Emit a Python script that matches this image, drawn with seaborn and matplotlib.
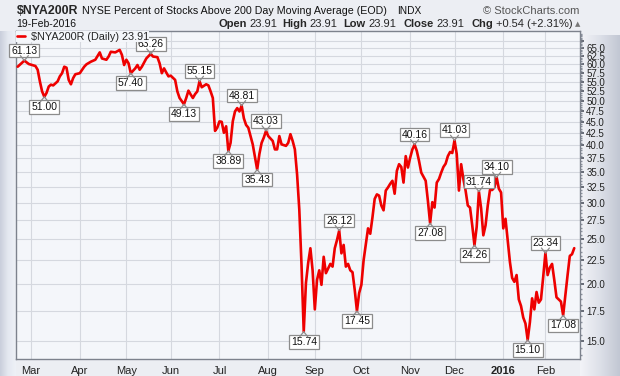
import numpy as np
import pandas as pd
import matplotlib
matplotlib.use("Agg")
import matplotlib.pyplot as plt
import seaborn as sns
from matplotlib import font_manager as fm
from matplotlib.ticker import FixedLocator, FuncFormatter, NullFormatter

# ---------------- data ----------------
start_date = "2015-02-20"
end_date = "2016-02-19"
nyse_holidays = ["2015-04-03", "2015-05-25", "2015-07-03", "2015-09-07",
                 "2015-11-26", "2015-12-25", "2016-01-01", "2016-01-18", "2016-02-15"]

# trading-session number (0 = 20-Feb-2015) and % of NYSE stocks above 200-day MA
session = [0, 3, 5, 8, 9, 10, 11, 12, 13, 14, 15, 16, 18, 19, 20, 21, 22, 23, 24, 25,
           26, 28, 30, 31, 33, 35, 37, 38, 40, 41, 42, 44, 46, 47, 48, 49, 50, 51, 53, 54,
           55, 56, 58, 60, 61, 63, 64, 65, 66, 67, 68, 69, 71, 72, 73, 75, 76, 77, 78, 79,
           80, 81, 82, 83, 85, 86, 87, 88, 89, 90, 91, 92, 93, 94, 95, 96, 97, 98, 99, 100,
           101, 102, 103, 104, 106, 108, 109, 110, 111, 112, 113, 115, 116, 117, 118, 119, 121, 122, 123, 124,
           125, 126, 127, 128, 129, 130, 131, 132, 133, 134, 135, 136, 137, 138, 139, 140, 141, 142, 143, 144,
           145, 146, 147, 148, 149, 150, 151, 152, 153, 154, 155, 156, 158, 159, 160, 161, 162, 163, 164, 165,
           166, 167, 168, 169, 170, 171, 172, 173, 174, 175, 176, 177, 178, 179, 180, 181, 182, 183, 184, 185,
           186, 187, 188, 189, 190, 191, 192, 193, 194, 195, 196, 197, 198, 199, 200, 201, 202, 203, 204, 205,
           206, 207, 208, 209, 210, 211, 212, 213, 214, 215, 216, 217, 218, 219, 220, 221, 222, 223, 224, 225,
           226, 227, 228, 229, 230, 231, 232, 233, 234, 235, 236, 237, 238, 239, 240, 241, 242, 243, 244, 245,
           246, 247, 248, 249, 250, 251]
pct_above = [59.3, 61.13, 60.1, 59.5, 58.4, 55.1, 52.4, 51.00, 52.0, 53.7, 54.2, 54.0, 55.1, 56.5, 57.4, 59.3, 59.0, 55.5, 54.3, 56.0,
             57.1, 57.4, 59.3, 60.0, 60.8, 61.4, 63.7, 61.8, 61.4, 62.4, 63.9, 63.7, 64.5, 62.9, 59.8, 61.4, 60.3, 57.40, 58.8, 59.8,
             58.4, 59.3, 61.8, 63.26, 62.4, 62.2, 60.3, 57.4, 58.8, 57.6, 56.5, 56.7, 55.5, 52.4, 50.7, 49.13, 50.7, 52.6, 51.6, 50.7,
             51.7, 52.4, 55.15, 53.5, 54.3, 54.0, 52.4, 50.7, 43.0, 43.7, 45.1, 45.0, 42.6, 44.0, 38.89, 40.5, 45.1, 47.4, 48.2, 47.4,
             48.81, 45.8, 44.3, 43.7, 40.2, 35.43, 38.3, 40.5, 41.6, 43.03, 41.9, 40.9, 39.2, 39.2, 41.9, 40.2, 39.9, 40.5, 42.3, 40.9,
             39.2, 34.6, 29.0, 22.0, 15.74, 20.1, 22.2, 23.9, 21.4, 17.6, 20.4, 21.4, 19.9, 22.9, 21.1, 21.6, 22.1, 21.8, 23.9, 24.9,
             26.12, 23.3, 24.3, 21.8, 22.1, 21.4, 21.2, 19.4, 17.45, 19.1, 19.9, 22.5, 26.4, 25.7, 27.9, 30.6, 31.3, 31.1, 29.6, 28.9,
             31.9, 32.4, 33.0, 33.5, 31.4, 35.2, 36.4, 35.9, 33.2, 37.9, 35.8, 37.6, 39.2, 40.16, 38.9, 37.0, 34.9, 34.2, 33.5, 30.3,
             27.08, 30.1, 29.3, 33.2, 33.8, 34.9, 35.9, 36.5, 37.9, 38.7, 38.5, 41.03, 38.3, 31.9, 36.4, 33.8, 31.9, 29.6, 29.3, 26.8,
             24.26, 26.6, 31.74, 29.2, 25.5, 26.8, 29.6, 32.0, 32.0, 32.4, 34.10, 32.2, 31.6, 26.4, 27.7, 24.9, 22.3, 20.6, 20.2, 20.9,
             18.5, 17.9, 16.9, 16.4, 15.10, 16.5, 18.6, 17.6, 19.2, 18.2, 18.5, 20.7, 23.34, 20.9, 21.7, 22.1, 20.4, 18.7, 18.5, 18.3,
             17.08, 18.9, 20.9, 23.0, 23.2, 23.91]

# annotated swing points (session, side of the label)
label_session = [3, 12, 51, 60, 75, 82, 95, 101, 108, 112, 129, 145, 153, 179, 186, 197,
                 206, 208, 216, 230, 238, 246]
label_side = ["up", "down", "down", "up", "down", "up", "down", "up", "down", "up", "down",
              "up", "down", "up", "down", "up", "down", "up", "up", "down", "up", "down"]

month_labels = ["Mar", "Apr", "May", "Jun", "Jul", "Aug", "Sep", "Oct", "Nov", "Dec", "2016", "Feb"]
y_ticks = [15.0, 17.5, 20.0, 22.5, 25.0, 27.5, 30.0, 32.5, 35.0, 37.5, 40.0, 42.5, 45.0,
           47.5, 50.0, 52.5, 55.0, 57.5, 60.0, 62.5, 65.0, 67.5]

title_symbol = "$NYA200R"
title_name = "NYSE Percent of Stocks Above 200 Day Moving Average (EOD)"
exchange = "INDX"
credit = "\u00a9 StockCharts.com"
as_of = "19-Feb-2016"
quote_fields = ["Open", "High", "Low", "Close", "Chg"]
quote_values = ["23.91", "23.91", "23.91", "23.91", "+0.54 (+2.31%)"]
legend_text = "$NYA200R (Daily) 23.91"

# ---------------- style ----------------
sns.set_theme(style="white")
names = {f.name for f in fm.fontManager.ttflist}
base = "Liberation Sans" if "Liberation Sans" in names else "DejaVu Sans"
narrow = "Liberation Sans Narrow" if "Liberation Sans Narrow" in names else base
plt.rcParams["font.family"] = [base, "DejaVu Sans"]

W, H = 620, 376
fig = plt.figure(figsize=(W / 100, H / 100), dpi=100)
fig.patch.set_facecolor("#eceef3")

# frame gradients (right axis panel and left strip)
rp = fig.add_axes([580 / W, 0, 40 / W, 1 - 35 / H])
grad = np.linspace(0, 1, 64)[None, :]
rp.imshow(grad, aspect="auto", cmap=matplotlib.colors.LinearSegmentedColormap.from_list(
    "rp", ["#f3f4f8", "#dde0e8", "#c2c7d3"]), extent=[0, 1, 0, 1])
rp.set_axis_off()
lp = fig.add_axes([0, 0, 16 / W, 1 - 31 / H])
lp.imshow(grad, aspect="auto", cmap=matplotlib.colors.LinearSegmentedColormap.from_list(
    "lp", ["#c9cedb", "#e4e8f0", "#eef1f7"]), extent=[0, 1, 0, 1])
lp.set_axis_off()

ax = fig.add_axes([16 / W, 17 / H, 564 / W, 328 / H])
ax.set_facecolor("#f4f6fa")

df = pd.DataFrame({"session": session, "pct": pct_above})
sns.lineplot(data=df, x="session", y="pct", ax=ax, color="#ee0000", lw=1.9,
             estimator=None, label=legend_text, zorder=3)

ax.set_yscale("log")
ax.set_ylim(13.73, 70.9)
ax.set_xlim(-0.77, 253.6)

# month ticks from the trading calendar
cal = pd.bdate_range(start_date, end_date, freq="C", holidays=nyse_holidays)
month_start = [i for i in range(1, len(cal)) if cal[i].month != cal[i - 1].month]
ax.xaxis.set_major_locator(FixedLocator(month_start))
ax.set_xticklabels(month_labels)
for t in ax.get_xticklabels():
    t.set_fontsize(8)
    t.set_color("#222222")
    if t.get_text().isdigit():
        t.set_fontweight("bold")
ax.tick_params(axis="x", length=2, pad=3, color="#9096a0")

ax.yaxis.tick_right()
ax.yaxis.set_major_locator(FixedLocator(y_ticks))
ax.yaxis.set_major_formatter(FuncFormatter(lambda v, p: "" if v > 65.5 else f"{v:.1f}"))
ax.yaxis.set_minor_locator(FixedLocator(np.arange(14.0, 70.1, 0.5)))
ax.yaxis.set_minor_formatter(NullFormatter())
ax.tick_params(axis="y", which="major", length=3, pad=1.5, labelsize=7, color="#555a66",
               labelcolor="#222222")
ax.tick_params(axis="y", which="minor", length=1.5, color="#8a909c")
for t in ax.get_yticklabels():
    t.set_fontfamily([narrow, "DejaVu Sans"])

ax.grid(True, which="major", color="#d5d8df", lw=0.8)
ax.set_axisbelow(True)
ax.set_xlabel("")
ax.set_ylabel("")
for s in ax.spines.values():
    s.set_color("#7d828d")
    s.set_linewidth(1.0)

# swing-point labels
value_at = dict(zip(session, pct_above))
for k, side in zip(label_session, label_side):
    v = value_at[k]
    sgn = 1 if side == "up" else -1
    ax.annotate(f"{v:.2f}", xy=(k, v), xytext=(0, sgn * 10), textcoords="offset pixels",
                ha="center", va="center", fontsize=7.5, family=[narrow, "DejaVu Sans"],
                color="#111111", zorder=6,
                bbox=dict(boxstyle="square,pad=0.18", fc="white", ec="#8c8c8c", lw=0.9))
    for dx in (-4, 4):
        ax.annotate("", xy=(k, v), xytext=(dx, sgn * 5), textcoords="offset pixels", zorder=6,
                    arrowprops=dict(arrowstyle="-", color="#8c8c8c", lw=0.9,
                                    shrinkA=0, shrinkB=0))

leg = ax.legend(loc="upper left", bbox_to_anchor=(0.0, 1.0), frameon=True, fontsize=7.8,
                handlelength=0.8, handletextpad=0.5, borderpad=0.05, borderaxespad=0.0,
                fancybox=False)
leg.get_frame().set_facecolor("#f4f6fa")
leg.get_frame().set_edgecolor("none")
leg.get_frame().set_alpha(1.0)
leg.set_zorder(10)
for t in leg.get_texts():
    t.set_fontfamily([narrow, "DejaVu Sans"])

# header
ty1 = 1 - 11 / H
ty2 = 1 - 24 / H
fig.text(16.5 / W, ty1, title_symbol, fontsize=8.9, fontweight="bold", va="center", ha="left")
fig.text(82.5 / W, ty1, title_name, fontsize=7.7, va="center", ha="left", color="#111111")
fig.text(397 / W, ty1, exchange, fontsize=7.3, va="center", ha="left", color="#111111")
fig.text(579 / W, ty1, credit, fontsize=8, va="center", ha="right", color="#555555")
fig.text(16.5 / W, ty2, as_of, fontsize=7.5, va="center", ha="left", color="#111111")
field_x = [218.6, 282.6, 343, 404, 472]
value_x = [249, 309.5, 368.8, 436, 496]
for name, val, fx, vx in zip(quote_fields, quote_values, field_x, value_x):
    fig.text(fx / W, ty2, name, fontsize=8, fontweight="bold", va="center", ha="left")
    fig.text(vx / W, ty2, val, fontsize=8, va="center", ha="left")
fig.text(575 / W, ty2, "\u25b2", fontsize=5, va="center", ha="left", color="#777777",
         family=["DejaVu Sans"])

fig.savefig("out.png", dpi=100, facecolor=fig.get_facecolor())
